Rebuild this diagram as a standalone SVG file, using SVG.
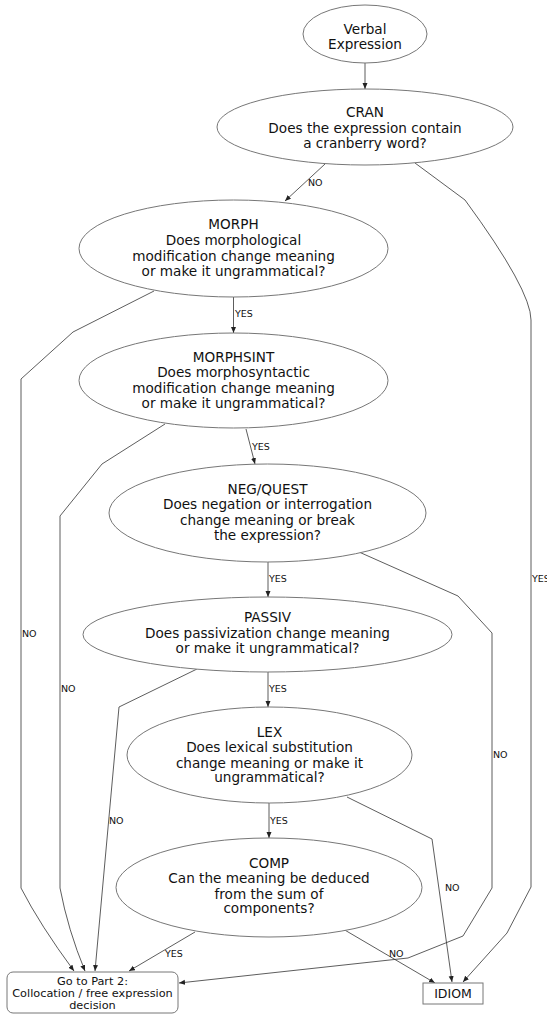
<svg xmlns="http://www.w3.org/2000/svg" width="547" height="1014" viewBox="0 0 547 1014">
<style>
.n{fill:#fff;stroke:#777;stroke-width:1}
.t{font-family:"DejaVu Sans",sans-serif;font-size:13.6px;fill:#111;text-anchor:middle}
.bt{font-family:"DejaVu Sans",sans-serif;font-size:11.3px;fill:#111;text-anchor:middle}
.l{font-family:"DejaVu Sans",sans-serif;font-size:9.5px;fill:#111}
.e{fill:none;stroke:#333;stroke-width:0.8;marker-end:url(#a)}
</style>
<defs>
<marker id="a" markerUnits="userSpaceOnUse" markerWidth="7" markerHeight="6" refX="6" refY="2.5" orient="auto">
<path d="M0,0 L6,2.5 L0,5 z" fill="#222"/>
</marker>
</defs>
<rect width="547" height="1014" fill="#fff"/>
<g id="edges">
<path class="e" d="M365,63 L365,89"/>
<path class="e" d="M325,164 L285,201"/>
<path class="e" d="M415,163 L465,200 Q531,290 531,320 L531,887 L507,933 L463,982"/>
<path class="e" d="M154,291 L73,332 L21,379 L21,888 Q40,925 74,971"/>
<path class="e" d="M165,424 L102,464 L60,516 L60,888 Q68,930 85,971"/>
<path class="e" d="M359,552 L458,596 L492,633 L492,888 L463,936 L408,958 L179,983"/>
<path class="e" d="M197,669 L119,707 L95,971"/>
<path class="e" d="M195,932 L129,971"/>
<path class="e" d="M347,797 L432,839 L452,982"/>
<path class="e" d="M343,929 L435,983"/>
<path class="e" d="M233.5,297 L233.5,333"/>
<path class="e" d="M246,429 L255,464"/>
<path class="e" d="M268,562 L268,597"/>
<path class="e" d="M268,672 L268,707"/>
<path class="e" d="M269,803 L269,838"/>
<text class="l" x="308" y="185.5">NO</text>
<text class="l" x="235" y="316.5">YES</text>
<text class="l" x="252" y="449.5">YES</text>
<text class="l" x="269" y="581.5">YES</text>
<text class="l" x="269" y="691.5">YES</text>
<text class="l" x="270" y="823.5">YES</text>
<text class="l" x="532" y="581.5">YES</text>
<text class="l" x="22" y="636.5">NO</text>
<text class="l" x="61" y="691.5">NO</text>
<text class="l" x="493" y="757.5">NO</text>
<text class="l" x="109" y="823.5">NO</text>
<text class="l" x="445" y="890.5">NO</text>
<text class="l" x="165" y="956.5">YES</text>
<text class="l" x="389" y="956.5">NO</text>
</g>
<g id="verbal">
<ellipse class="n" cx="365" cy="34" rx="62" ry="29"/>
<text class="t" x="365" y="34">Verbal</text>
<text class="t" x="365" y="49">Expression</text>
</g>
<g id="cran">
<ellipse class="n" cx="365" cy="127" rx="148" ry="38"/>
<text class="t" x="365" y="117">CRAN</text>
<text class="t" x="365" y="132.5">Does the expression contain</text>
<text class="t" x="365" y="148">a cranberry word?</text>
</g>
<g id="morph">
<ellipse class="n" cx="233.5" cy="248.5" rx="154.5" ry="48.5"/>
<text class="t" x="233.5" y="229">MORPH</text>
<text class="t" x="233.5" y="245">Does morphological</text>
<text class="t" x="233.5" y="260.5">modification change meaning</text>
<text class="t" x="233.5" y="276">or make it ungrammatical?</text>
</g>
<g id="morphsint">
<ellipse class="n" cx="233.5" cy="380.5" rx="154.5" ry="47.5"/>
<text class="t" x="233.5" y="362">MORPHSINT</text>
<text class="t" x="233.5" y="377">Does morphosyntactic</text>
<text class="t" x="233.5" y="392.5">modification change meaning</text>
<text class="t" x="233.5" y="407.5">or make it ungrammatical?</text>
</g>
<g id="negquest">
<ellipse class="n" cx="267.5" cy="513" rx="158.5" ry="49"/>
<text class="t" x="267.5" y="494">NEG/QUEST</text>
<text class="t" x="267.5" y="509">Does negation or interrogation</text>
<text class="t" x="267.5" y="524.5">change meaning or break</text>
<text class="t" x="267.5" y="540">the expression?</text>
</g>
<g id="passiv">
<ellipse class="n" cx="267.5" cy="634.5" rx="184.5" ry="37.5"/>
<text class="t" x="267.5" y="622">PASSIV</text>
<text class="t" x="267.5" y="637.5">Does passivization change meaning</text>
<text class="t" x="267.5" y="653">or make it ungrammatical?</text>
</g>
<g id="lex">
<ellipse class="n" cx="269.5" cy="755" rx="142.5" ry="48"/>
<text class="t" x="269.5" y="737">LEX</text>
<text class="t" x="269.5" y="752">Does lexical substitution</text>
<text class="t" x="269.5" y="767.5">change meaning or make it</text>
<text class="t" x="269.5" y="782">ungrammatical?</text>
</g>
<g id="comp">
<ellipse class="n" cx="269" cy="887.5" rx="153" ry="49.5"/>
<text class="t" x="269" y="868">COMP</text>
<text class="t" x="269" y="883">Can the meaning be deduced</text>
<text class="t" x="269" y="898.5">from the sum of</text>
<text class="t" x="269" y="913">components?</text>
</g>
<g id="part2">
<rect class="n" x="7" y="972" width="171" height="41" rx="6"/>
<text class="bt" x="92.5" y="985">Go to Part 2:</text>
<text class="bt" x="92.5" y="997">Collocation / free expression</text>
<text class="bt" x="92.5" y="1008.5">decision</text>
</g>
<g id="idiom">
<rect class="n" x="423" y="983" width="60" height="21"/>
<text class="t" x="453" y="998" style="font-size:12.5px">IDIOM</text>
</g>
</svg>
